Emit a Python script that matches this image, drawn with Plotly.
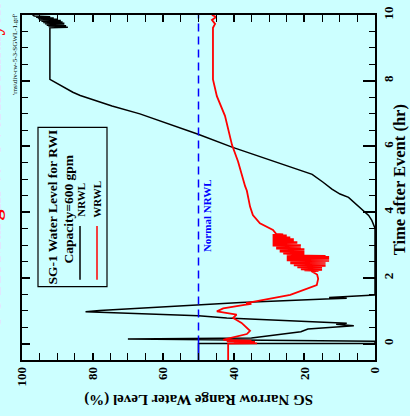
import plotly.graph_objects as go

# ---------------- data ----------------
# NRWL (black): time after event (hr) vs SG narrow range level (%)
nrwl_time = [-0.5, 0.0, 0.005, 0.07, 0.14, 0.17, 0.36, 0.44, 0.54, 0.57, 0.59, 0.62,
             0.71, 0.78, 0.85, 0.97, 1.01, 1.10, 1.25, 1.36, 1.38, 1.40, 1.48,
             3.51, 3.75, 3.90, 4.05, 4.20, 4.35, 4.45, 4.55, 4.70, 4.91, 5.15,
             5.98, 6.37, 6.99, 7.23, 7.55, 7.60, 7.65, 8.04, 9.61,
             9.63, 9.65, 9.67, 9.69, 9.71, 9.73, 9.75, 9.77, 9.79, 9.81,
             9.83, 9.85, 9.87, 9.89, 9.91, 9.93, 9.95, 9.97, 10.0]
nrwl_level = [50, 50, 0, 0, 70, 35, 21, 19, 6, 9, 11, 8,
              27, 42, 50, 82, 78, 63, 38, 14, 8, 13, 0,
              0, 0.9, 1.8, 3.4, 5.1, 6.5, 7.5, 9.9, 12.2, 14.7, 17.8,
              40.5, 50.1, 66.6, 74.5, 83.5, 84.5, 85.6, 92.1, 92.1,
              87, 92.5, 87.5, 93, 88, 93.5, 88, 94, 88.5, 94.5,
              89, 95, 90, 95.5, 91, 96, 92, 96.5, 97]

# WRWL (red)
wrwl_time = [-0.5, 0.0, 0.005, 0.03, 0.05, 0.07, 0.09, 0.11, 0.14, 0.29, 0.39, 0.50,
             0.63, 0.78, 0.88, 0.98, 1.07, 1.18, 1.21, 1.23, 1.48, 1.78, 1.97,
             2.10, 2.17,
             2.200, 2.215, 2.230, 2.245, 2.260, 2.275, 2.290, 2.305, 2.320, 2.335,
             2.350, 2.365, 2.380, 2.395, 2.410, 2.425, 2.440, 2.455, 2.470, 2.485,
             2.500, 2.515, 2.530, 2.545, 2.560, 2.575, 2.590, 2.605, 2.620, 2.635,
             2.650, 2.665, 2.680,
             2.695, 2.710, 2.725, 2.740, 2.755, 2.770, 2.785, 2.800, 2.815, 2.830,
             2.845, 2.860, 2.875, 2.890, 2.905, 2.920, 2.935, 2.950, 2.965, 2.980,
             2.995, 3.010, 3.025, 3.040, 3.055, 3.070, 3.085, 3.100, 3.115, 3.130,
             3.145, 3.160, 3.175, 3.190, 3.205, 3.220, 3.235, 3.250, 3.265, 3.280,
             3.295, 3.310, 3.325, 3.340,
             3.46, 3.66, 3.91, 4.17, 4.65, 4.79, 5.54, 6.04, 6.93, 7.53, 8.04,
             9.61, 9.73, 9.85, 9.94, 10.0]
wrwl_level = [41.6, 41.6, 33.4, 40, 34, 42, 35, 43, 42, 36.3, 35.4, 36.5,
              37.8, 40.2, 39.2, 44.8, 43, 37, 35, 36.5, 24, 16.5, 16.1,
              16.4, 17.6,
              18, 16, 20, 15, 21, 16, 21, 15, 22, 15,
              22, 14, 23, 15, 23, 14, 24, 14, 24, 14,
              24, 13, 25, 13, 25, 13, 25, 13, 25, 13,
              25, 14, 24,
              22, 25, 20, 26, 20, 26, 20, 27, 20, 27,
              21, 27, 20, 28, 21, 28, 21, 28, 21, 29,
              21, 29, 22, 29, 22, 29, 22, 29, 23, 29,
              23, 29, 23, 29, 24, 29, 24, 29, 25, 29,
              25, 29, 26, 28,
              28.9, 32.6, 34.6, 35.4, 36.3, 36.8, 38.8, 40.5, 42.5, 44.8, 45.9,
              45.9, 45.3, 46.2, 45.0, 46.2]

normal_level = 50
normal_pre_time = [-0.5, 0.0]
normal_time = [0.0, 10.0]

level_ticks = [0, 20, 40, 60, 80, 100]
time_ticks = [0, 2, 4, 6, 8, 10]

# ---------------- layout helpers ----------------
W, H = 410, 416
X0, X1, Y0, Y1 = 22, 375, 7, 360
BG = "#CCFFFF"
SERIF = "Liberation Serif"


def px(x):
    return (x - X0) / (X1 - X0)


def py(y):
    return (Y1 - y) / (Y1 - Y0)


fig = go.Figure()
fig.add_trace(go.Scatter(x=nrwl_level, y=nrwl_time, mode="lines",
                         line=dict(color="black", width=1.5), showlegend=False))
fig.add_trace(go.Scatter(x=wrwl_level, y=wrwl_time, mode="lines",
                         line=dict(color="red", width=1.8), showlegend=False))
fig.add_trace(go.Scatter(x=[normal_level] * 2, y=normal_pre_time, mode="lines",
                         line=dict(color="blue", width=1.5), showlegend=False))
fig.add_trace(go.Scatter(x=[normal_level] * 2, y=normal_time, mode="lines", yaxis="y2",
                         line=dict(color="blue", width=1.5, dash="8px,5px"),
                         showlegend=False))

tickfont = dict(family=SERIF, size=13, color="black", weight="bold")

fig.update_layout(
    width=W, height=H,
    margin=dict(l=X0, r=W - X1, t=Y0, b=H - Y1, pad=0),
    paper_bgcolor=BG, plot_bgcolor=BG,
    xaxis=dict(range=[100, 0], tickvals=level_ticks, ticks="inside", ticklen=7,
               tickwidth=1.5, tickcolor="black", mirror="allticks", showline=True,
               linecolor="black", linewidth=1.5, tickangle=-90, tickfont=tickfont,
               minor=dict(dtick=5, tick0=0, ticks="inside", ticklen=5,
                          tickcolor="black", tickwidth=1),
               showgrid=False, zeroline=False),
    yaxis=dict(range=[-0.5, 10], side="right", tickvals=time_ticks, ticks="inside",
               ticklen=12, tickwidth=1.5, tickcolor="black", showline=True,
               linecolor="black", linewidth=2, tickangle=-90, tickfont=tickfont,
               minor=dict(dtick=0.5, tick0=0, ticks="inside", ticklen=6,
                          tickcolor="black", tickwidth=1),
               showgrid=False, zeroline=False),
    yaxis2=dict(range=[-0.5, 10], side="left", overlaying="y", tickvals=time_ticks,
                showticklabels=False, ticks="inside", ticklen=8, tickwidth=1.5,
                tickcolor="black", showline=True, linecolor="black", linewidth=1.5,
                minor=dict(dtick=0.5, tick0=0, ticks="inside", ticklen=6,
                           tickcolor="black", tickwidth=1),
                showgrid=False, zeroline=False),
)


def note(text, x, y, size, color="black", angle=-90, xref="paper", yref="paper"):
    return dict(text=text, x=x, y=y, xref=xref, yref=yref, textangle=angle,
                showarrow=False, xanchor="center", yanchor="middle",
                font=dict(family=SERIF, size=size, color=color))


ann = [
    note("<b>SG Narrow Range Water Level (%)</b>", px(199), py(401), 15, angle=180),
    note("<b>Time after Event (hr)</b>", px(399), py(176), 16.5),
    note("'rns\\div-rw-5-3-SGWL-1.grf'", px(15), py(48), 7),
    note("<b>SGTR Margin-to-Overfill Analysis</b>", px(-7), py(160), 22, color="red"),
    note("<b>Normal NRWL</b>", 47.4, 3.9, 11, color="blue", xref="x", yref="y"),
    note("<b>SG-1 Water Level for RWI</b>", px(53), py(204), 13.5),
    note("<b>Capacity=600 gpm</b>", px(68), py(206), 13.5),
    note("<b>NRWL</b>", px(81), py(196), 11),
    note("<b>WRWL</b>", px(97), py(196), 11),
]
fig.update_layout(annotations=ann)

shapes = [
    dict(type="rect", xref="paper", yref="paper", x0=px(38), x1=px(107),
         y0=py(285), y1=py(122), line=dict(color="black", width=1.2), fillcolor=BG,
         layer="above"),
    dict(type="line", xref="paper", yref="paper", x0=px(80), x1=px(80),
         y0=py(278), y1=py(223), line=dict(color="black", width=1.5)),
    dict(type="line", xref="paper", yref="paper", x0=px(97), x1=px(97),
         y0=py(278), y1=py(223), line=dict(color="red", width=1.5)),
]
fig.update_layout(shapes=shapes)

fig.write_html("out.html")
